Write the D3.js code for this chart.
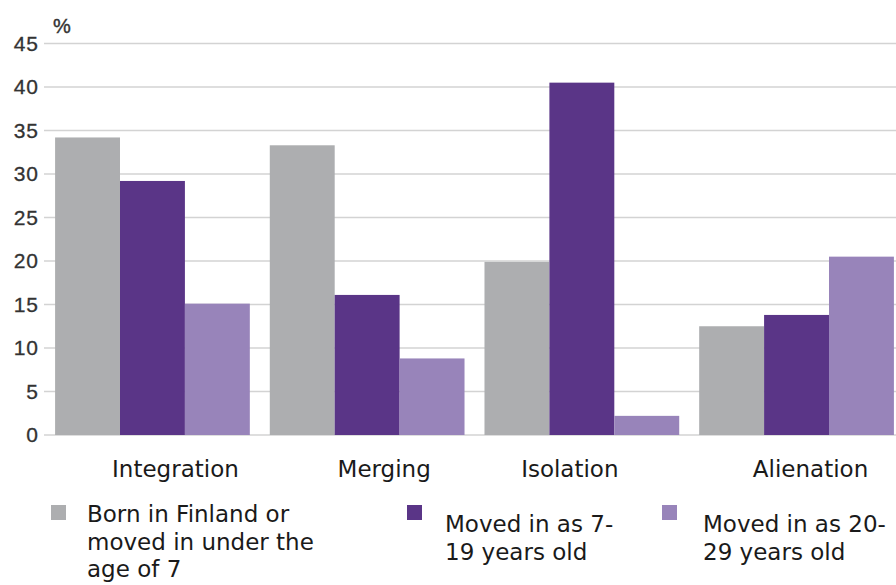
<!DOCTYPE html>
<html>
<head>
<meta charset="utf-8">
<script src="https://cdn.jsdelivr.net/npm/d3@7"></script>
<style>
  html, body { margin: 0; padding: 0; background: #fff; }
  svg { display: block; }
</style>
</head>
<body>
<svg id="chart" width="896" height="585"></svg>
<script>
// ---- data ----
const categories = ["Integration", "Merging", "Isolation", "Alienation"];
const seriesNames = [
  ["Born in Finland or", "moved in under the", "age of 7"],
  ["Moved in as 7-", "19 years old"],
  ["Moved in as 20-", "29 years old"]
];
const bornFinland = [34.2, 33.3, 19.9, 12.5];
const moved7to19 = [29.2, 16.1, 40.5, 13.8];
const moved20to29 = [15.1, 8.8, 2.2, 20.5];
const yTicks = [0, 5, 10, 15, 20, 25, 30, 35, 40, 45];
const yUnit = "%";

// ---- layout / style ----
const colors = ["#adaeb0", "#5a3587", "#9884ba"];
const labelDx = [23, 17, -12, 14];
const legendX = [87, 445, 703];
const legendSquareX = [51, 407, 662];
const legendBaseline = [522, 532, 532];

const svg = d3.select("#chart");
const series = [bornFinland, moved7to19, moved20to29];

const y = d3.scaleLinear().domain([0, 45]).range([435, 43.5]);
const x0 = d3.scaleBand().domain(categories).range([45, 904])
  .paddingInner(0.093).paddingOuter(0.047);
const x1 = d3.scaleBand().domain(d3.range(series.length)).range([0, x0.bandwidth()]);

// gridlines
svg.append("g").selectAll("line").data(yTicks).join("line")
  .attr("x1", 44).attr("x2", 896)
  .attr("y1", d => y(d)).attr("y2", d => y(d))
  .attr("stroke", "#d3d3d3").attr("stroke-width", 1.5);

// y tick labels
svg.append("g").selectAll("text").data(yTicks).join("text")
  .attr("x", 39).attr("y", d => y(d)).attr("dy", "0.34em")
  .attr("text-anchor", "end")
  .attr("font-family", "'Liberation Sans', Arial, sans-serif")
  .attr("font-size", 21).attr("letter-spacing", 1)
  .attr("fill", "#333")
  .attr("stroke", "#333").attr("stroke-width", 0.3)
  .text(d => d);

svg.append("text").attr("x", 53).attr("y", 33)
  .attr("font-family", "'Liberation Sans', Arial, sans-serif")
  .attr("font-size", 20).attr("fill", "#333")
  .attr("stroke", "#333").attr("stroke-width", 0.4)
  .text(yUnit);

// bars
const groups = svg.append("g").selectAll("g").data(categories).join("g")
  .attr("transform", c => `translate(${x0(c)},0)`);
groups.selectAll("rect").data((c, i) => series.map((s, k) => ({k, v: s[i]}))).join("rect")
  .attr("x", d => x1(d.k)).attr("width", x1.bandwidth())
  .attr("y", d => y(d.v)).attr("height", d => y(0) - y(d.v))
  .attr("fill", d => colors[d.k]);

// category labels
svg.append("g").selectAll("text").data(categories).join("text")
  .attr("x", (c, i) => x0(c) + x0.bandwidth() / 2 + labelDx[i])
  .attr("y", 477).attr("text-anchor", "middle")
  .attr("font-family", "'DejaVu Sans', Verdana, sans-serif")
  .attr("font-size", 23).attr("fill", "#1a1a1a")
  .text(c => c);

// legend
const leg = svg.append("g").selectAll("g").data(seriesNames).join("g");
leg.append("rect")
  .attr("x", (d, i) => legendSquareX[i]).attr("y", 505)
  .attr("width", 15).attr("height", 15)
  .attr("fill", (d, i) => colors[i]);
leg.each(function(lines, i) {
  const t = d3.select(this).append("text")
    .attr("font-family", "'DejaVu Sans', Verdana, sans-serif")
    .attr("font-size", 23).attr("fill", "#1a1a1a");
  t.selectAll("tspan").data(lines).join("tspan")
    .attr("x", legendX[i])
    .attr("y", (l, j) => legendBaseline[i] + j * 27.5)
    .text(l => l);
});
</script>
</body>
</html>
